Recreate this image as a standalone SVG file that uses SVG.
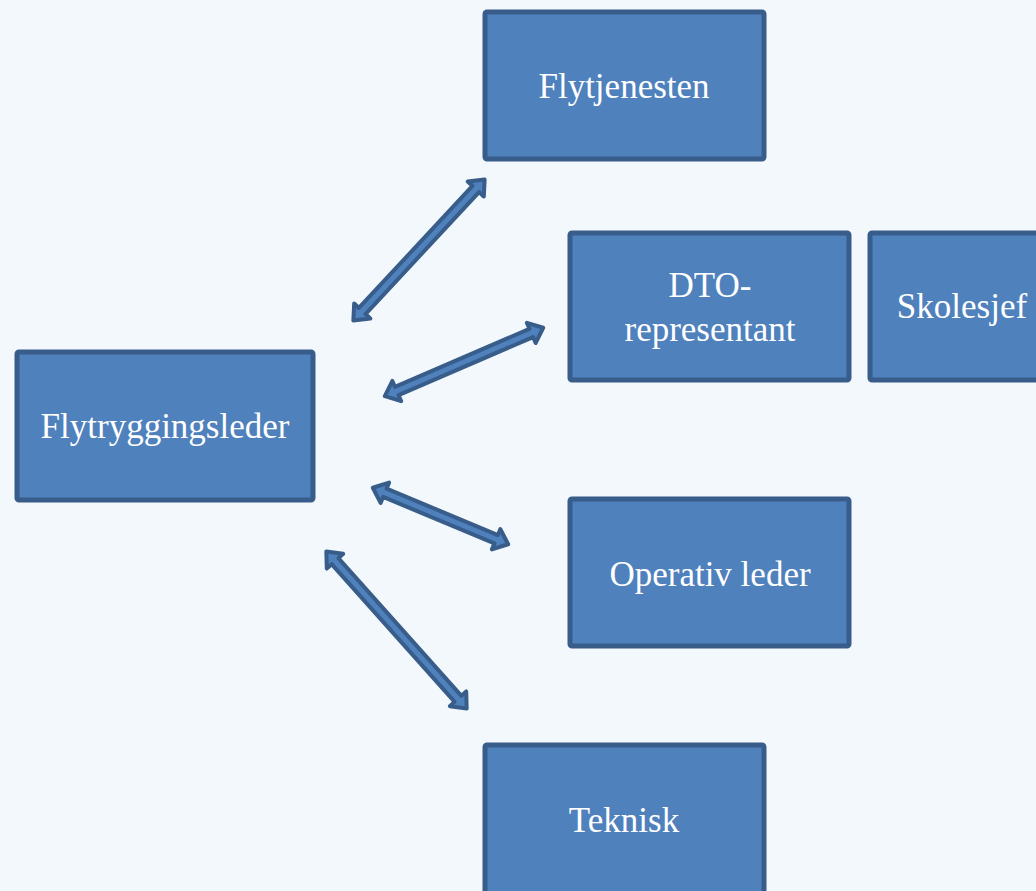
<svg xmlns="http://www.w3.org/2000/svg" width="1036" height="891" viewBox="0 0 1036 891">
<style>
.box{fill:#4f81bd;stroke:#385d8a;stroke-width:5;}
.lbl{fill:#ffffff;font-family:"Liberation Serif","DejaVu Serif",serif;font-size:35px;text-anchor:middle;}
.arr{fill:#4f81bd;stroke:#385d8a;stroke-width:4;stroke-linejoin:round;}
</style>
<rect width="1036" height="891" fill="#f2f8fb"/>
<g id="connectors">
<path class="arr" transform="translate(352,322) rotate(-47.06)" d="M2,0 L15,-11 L15,-4.5 L181.7,-4.5 L181.7,-11 L194.7,0 L181.7,11 L181.7,4.5 L15,4.5 L15,11 Z"/>
<path class="arr" transform="translate(383,397) rotate(-23.37)" d="M2,0 L15,-11 L15,-4.5 L161.5,-4.5 L161.5,-11 L174.5,0 L161.5,11 L161.5,4.5 L15,4.5 L15,11 Z"/>
<path class="arr" transform="translate(371,487) rotate(22.65)" d="M2,0 L15,-11 L15,-4.5 L135.6,-4.5 L135.6,-11 L148.6,0 L135.6,11 L135.6,4.5 L15,4.5 L15,11 Z"/>
<path class="arr" transform="translate(325,550) rotate(48.21)" d="M2,0 L15,-11 L15,-4.5 L199.6,-4.5 L199.6,-11 L212.6,0 L199.6,11 L199.6,4.5 L15,4.5 L15,11 Z"/>
</g>
<g id="flytryggingsleder">
<rect class="box" x="17" y="352" width="296" height="148" rx="2"/>
<text class="lbl" x="165" y="438">Flytryggingsleder</text>
</g>
<g id="flytjenesten">
<rect class="box" x="485" y="12" width="279" height="147" rx="2"/>
<text class="lbl" x="624" y="98">Flytjenesten</text>
</g>
<g id="dto">
<rect class="box" x="570" y="233" width="279" height="147" rx="2"/>
<text class="lbl" x="710" y="297">DTO-</text>
<text class="lbl" x="710" y="341">representant</text>
</g>
<g id="skolesjef">
<rect class="box" x="870" y="233" width="180" height="147" rx="2"/>
<text class="lbl" x="962" y="318">Skolesjef</text>
</g>
<g id="operativ">
<rect class="box" x="570" y="499" width="279" height="147" rx="2"/>
<text class="lbl" x="710" y="586">Operativ leder</text>
</g>
<g id="teknisk">
<rect class="box" x="485" y="745" width="279" height="160" rx="2"/>
<text class="lbl" x="624" y="832">Teknisk</text>
</g>
</svg>
